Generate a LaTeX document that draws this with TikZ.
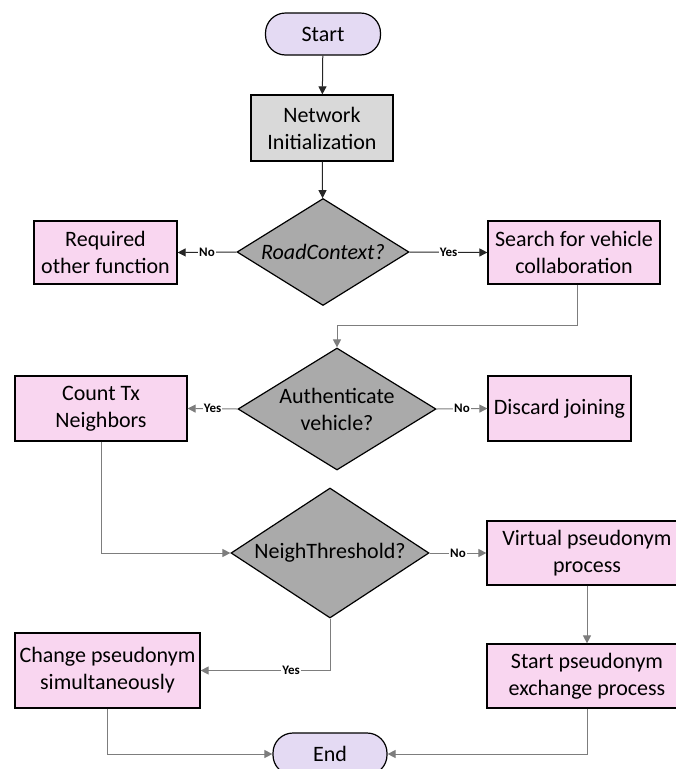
\documentclass[tikz,border=0pt]{standalone}
\usepackage{fontspec}
\setmainfont{Carlito}
\usetikzlibrary{shapes.geometric,arrows.meta}
\definecolor{termfill}{RGB}{228,218,243}
\definecolor{procfill}{RGB}{249,214,240}
\definecolor{decfill}{RGB}{170,170,170}
\definecolor{initfill}{RGB}{217,217,217}
\definecolor{lineg}{RGB}{125,125,125}
\begin{document}
\begin{tikzpicture}[x=1pt,y=-1pt,
  base/.style={draw=black, line width=1.2pt, align=center, inner sep=0pt,
    font=\fontsize{22}{27}\selectfont},
  term/.style={base, fill=termfill, rounded corners=20pt},
  proc/.style={base, fill=procfill},
  initbox/.style={base, fill=initfill},
  dec/.style={base, diamond, aspect=1.6, fill=decfill},
  conn/.style={draw=lineg, line width=1pt, -{Triangle[length=8pt,width=8pt]}},
  connk/.style={conn, draw=black!85},
  lab/.style={fill=white, inner sep=1pt, font=\bfseries\fontsize{13}{14}\selectfont}
]
\useasboundingbox (0,0) rectangle (676,769);
\node[term, minimum width=115pt, minimum height=42pt] (start) at (323,34) {Start};
\node[initbox, minimum width=142pt, minimum height=66pt] (net) at (322,128) {Network\\Initialization};
\node[dec, minimum width=172pt, minimum height=107pt] (road) at (323,252) {\itshape RoadContext?};
\node[proc, minimum width=143pt, minimum height=63pt] (req) at (105.5,252.5) {Required\\other function};
\node[proc, minimum width=172pt, minimum height=63pt] (search) at (574,252.5) {Search for vehicle\\collaboration};
\node[dec, minimum width=198pt, minimum height=122pt] (auth) at (337,409) {Authenticate\\vehicle?};
\node[proc, minimum width=172pt, minimum height=65pt] (count) at (101,408.5) {Count Tx\\Neighbors};
\node[proc, minimum width=143pt, minimum height=65pt] (disc) at (559.5,408.5) {Discard joining};
\node[dec, minimum width=198pt, minimum height=130pt] (neigh) at (330,553) {NeighThreshold?};
\node[proc, minimum width=200pt, minimum height=64pt] (virt) at (587,553) {Virtual pseudonym\\process};
\node[proc, minimum width=200pt, minimum height=64pt] (spx) at (587,676) {Start pseudonym\\exchange process};
\node[proc, minimum width=185pt, minimum height=75pt] (chg) at (107.5,670.5) {Change pseudonym\\simultaneously};
\node[term, minimum width=114pt, minimum height=42pt] (end) at (330,754) {End};

\draw[connk] (start) -- (net);
\draw[connk] (net) -- (road);
\draw[connk] (road.west) -- node[lab]{No} (req.east);
\draw[connk] (road.east) -- node[lab]{Yes} (search.west);
\coordinate (j1) at (577,325);
\draw[conn] (search.south -| j1) -- (j1) -| (auth.north);
\draw[conn] (auth.west) -- node[lab]{Yes} (count.east);
\draw[conn] (auth.east) -- node[lab]{No} (disc.west);
\draw[conn] (count.south) |- (neigh.west);
\draw[conn] (neigh.east) -- node[lab]{No} (virt.west);
\draw[conn] (virt.south) -- (spx.north);
\draw[conn] (neigh.south) |- node[lab, pos=0.65]{Yes} (chg.east);
\draw[conn] (chg.south) |- (end.west);
\draw[conn] (spx.south) |- (end.east);
\end{tikzpicture}
\end{document}
